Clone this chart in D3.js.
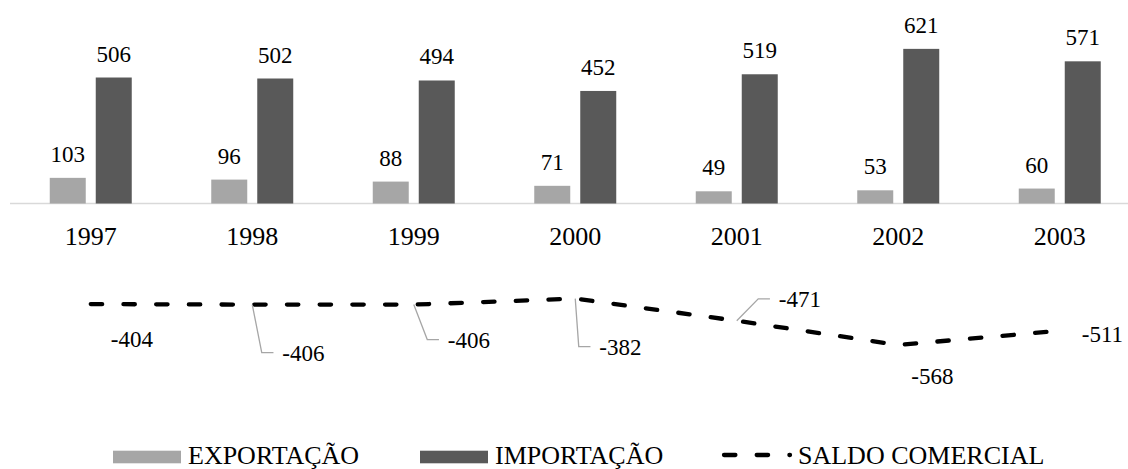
<!DOCTYPE html>
<html>
<head>
<meta charset="utf-8">
<script src="https://cdn.jsdelivr.net/npm/d3@7/dist/d3.min.js"></script>
<style>
  html, body { margin: 0; padding: 0; background: #ffffff; }
  svg { display: block; }
  text { font-family: "Liberation Serif" !important; }
</style>
</head>
<body>
<svg id="chart" width="1128" height="469"></svg>
<script>
// Balança comercial (1997–2003)
const years = ["1997", "1998", "1999", "2000", "2001", "2002", "2003"];
const exportacao = [103, 96, 88, 71, 49, 53, 60];
const importacao = [506, 502, 494, 452, 519, 621, 571];
const saldoComercial = [-404, -406, -406, -382, -471, -568, -511];
const seriesNames = ["EXPORTAÇÃO", "IMPORTAÇÃO", "SALDO COMERCIAL"];

// Placement of the saldo labels relative to their points: [dx, dy, leader?]
const saldoLabelPlacement = [
  [20, 35, false],
  [30, 48, true],
  [34, 35, true],
  [24, 48, true],
  [42, -22, true],
  [13, 31, false],
  [22, 3, false]
];

const colors = { exp: "#a6a6a6", imp: "#595959", line: "#000000", axis: "#d9d9d9", leader: "#a6a6a6" };
const FONT = "Liberation Serif";

const svg = d3.select("#chart");

const x0 = d3.scaleBand()
  .domain(years)
  .range([10, 1140.5])
  .paddingInner(0.4923)
  .paddingOuter(0.24615);

const x1 = d3.scaleBand()
  .domain(["exp", "imp"])
  .range([0, x0.bandwidth()])
  .paddingInner(10 / 46);

const y = d3.scaleLinear()
  .domain([-700, 700])
  .range([203.5 + 0.249 * 700, 203.5 - 0.249 * 700]);

const cx = d => x0(d) + x0.bandwidth() / 2;

// Helper: plain text node on the root svg
const addText = (x, yPos, txt, size, anchor) => svg.append("text")
  .attr("x", x)
  .attr("y", yPos)
  .attr("text-anchor", anchor)
  .attr("font-family", FONT)
  .attr("font-size", size)
  .attr("fill", "#000")
  .text(txt);

// Category axis line at zero
svg.append("line")
  .attr("x1", 10).attr("x2", 1140)
  .attr("y1", y(0)).attr("y2", y(0))
  .attr("stroke", colors.axis).attr("stroke-width", 1.5);

// Category labels
years.forEach(yr => addText(cx(yr), 245, yr, 26, "middle"));

// Bars
["exp", "imp"].forEach(key => {
  const vals = key === "exp" ? exportacao : importacao;
  years.forEach((yr, i) => {
    const v = vals[i];
    svg.append("rect")
      .attr("x", x0(yr) + x1(key))
      .attr("width", x1.bandwidth())
      .attr("y", y(v))
      .attr("height", y(0) - y(v))
      .attr("fill", colors[key]);
    addText(x0(yr) + x1(key) + x1.bandwidth() / 2, y(v) - 16, v, 23, "middle");
  });
});

// Saldo comercial line
const linePts = years.map((yr, i) => ({ yr, v: saldoComercial[i], x: cx(yr), y: y(saldoComercial[i]) }));
const line = d3.line().x(d => d.x).y(d => d.y);

svg.append("path")
  .datum(linePts)
  .attr("d", line)
  .attr("fill", "none")
  .attr("stroke", colors.line)
  .attr("stroke-width", 4.3)
  .attr("stroke-linecap", "round")
  .attr("stroke-dasharray", "11.4,21.3");

// Saldo labels with leader lines
linePts.forEach((p, i) => {
  const [dx, dy, leader] = saldoLabelPlacement[i];
  const lx = p.x + dx;
  const ly = p.y + dy;
  if (leader) {
    svg.append("path")
      .attr("d", `M${p.x},${p.y}L${lx - 20.5},${ly}L${lx - 8.8},${ly}`)
      .attr("fill", "none")
      .attr("stroke", colors.leader)
      .attr("stroke-width", 1.3);
  }
  addText(lx, ly + 8, p.v, 23, "start");
});

// Legend
svg.append("rect").attr("x", 113).attr("y", 450.7).attr("width", 68).attr("height", 12.6).attr("fill", colors.exp);
addText(188, 464, seriesNames[0], 26, "start");
svg.append("rect").attr("x", 420).attr("y", 450.7).attr("width", 68).attr("height", 12.6).attr("fill", colors.imp);
addText(495, 464, seriesNames[1], 26, "start");
svg.append("path")
  .attr("d", "M724,455L790,455")
  .attr("stroke", colors.line)
  .attr("stroke-width", 4.3)
  .attr("stroke-linecap", "round")
  .attr("stroke-dasharray", "11.4,21.3");
addText(798, 464, seriesNames[2], 26, "start");
</script>
</body>
</html>
